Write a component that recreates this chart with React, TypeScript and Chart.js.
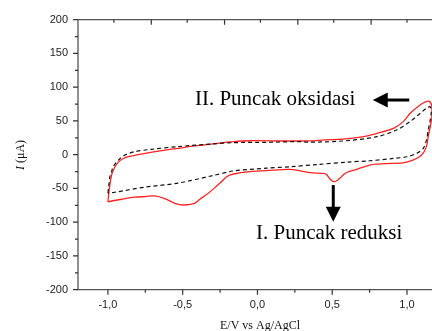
import React, { useEffect, useRef } from 'react';
import { Chart, registerables } from 'chart.js';

Chart.register(...registerables);

// Red CV curve (sample), potential (V) and current (µA)
const redE = [
  -1.0, -0.99, -0.975, -0.955, -0.93, -0.9, -0.864, -0.8, -0.75, -0.64, -0.53, -0.42, -0.3, -0.16, -0.05,
  0.17, 0.35, 0.45, 0.57, 0.7, 0.8, 0.91, 0.975, 1.02, 1.087, 1.12, 1.15, 1.166, 1.167, 1.156, 1.142,
  1.13, 1.098, 1.04, 0.975, 0.9, 0.8, 0.75, 0.664, 0.6, 0.574, 0.54, 0.514, 0.49, 0.46, 0.44, 0.35,
  0.22, 0.06, -0.05, -0.16, -0.206, -0.25, -0.296, -0.34, -0.385, -0.42, -0.496, -0.552, -0.62, -0.686,
  -0.75, -0.82, -0.908, -0.975, -1.0,
];
const redI = [
  -70, -50, -30, -19, -11, -6, -3, 0, 2, 6, 9.5, 13, 16, 19.3, 20.7,
  20.3, 20.5, 22, 23, 26.5, 31.7, 39, 49, 61, 73.6, 78, 79, 72, 58, 42, 27,
  12, -0.5, -8, -12, -13, -14, -15.3, -21.7, -26, -30, -37, -40, -37, -29, -27.6, -26.6,
  -21.7, -23.7, -25, -28.6, -32.6, -42, -51, -59, -66, -72, -74.5, -72, -65, -61,
  -62, -63, -66, -68.6, -70,
];

// Black dashed curve (blank)
const dashE = [
  -1.0, -0.995, -0.987, -0.975, -0.965, -0.93, -0.886, -0.82, -0.71, -0.53, -0.3, -0.16, 0.06, 0.28,
  0.35, 0.57, 0.8, 0.93, 1.02, 1.087, 1.13, 1.155, 1.162, 1.155, 1.142, 1.13, 1.109, 1.065, 1.0,
  0.91, 0.75, 0.6, 0.4, 0.22, 0.06, -0.16, -0.3, -0.53, -0.75, -0.965, -1.0,
];
const dashI = [
  -57, -48, -33, -25, -18, -8, -0.5, 4.5, 8, 12, 16, 17.8, 18.4, 19.3,
  18.5, 20.3, 26.7, 36.6, 49, 61, 68.7, 71, 62, 51, 36.6, 21.8, 9.5, 2, -3,
  -5.5, -9, -11, -14.5, -17.8, -20, -24, -31, -42, -48, -56, -57,
];

const xMajorTicks = [-1, -0.5, 0, 0.5, 1];
const xMinorTicks = [-0.75, -0.25, 0.25, 0.75];
const yMajorTicks = [-200, -150, -100, -50, 0, 50, 100, 150, 200];
const yMinorTicks = [-175, -125, -75, -25, 25, 75, 125, 175];
const topMajorTicks = [-0.71, -0.22, 0.27, 0.76];
const topMinorTicks = [-0.96, -0.47, 0.02, 0.51, 1.0];

const oxLabel = 'II. Puncak oksidasi';
const redLabel = 'I. Puncak reduksi';
const xTitle = 'E/V vs Ag/AgCl';

const SERIF = '"Liberation Serif", "Times New Roman", serif';
const SANS = '"Liberation Sans", Arial, sans-serif';

const decorPlugin = {
  id: 'decor',
  afterDraw(chart: any) {
    const { ctx, chartArea, scales } = chart;
    const xs = scales.x;
    const ys = scales.y;
    const { left, right, top, bottom } = chartArea;
    ctx.save();
    ctx.strokeStyle = '#555';
    ctx.lineWidth = 1.3;
    ctx.beginPath();
    ctx.moveTo(left, top);
    ctx.lineTo(right + 2, top);
    ctx.moveTo(left, top - 0.5);
    ctx.lineTo(left, bottom);
    ctx.lineTo(right + 2, bottom);
    ctx.stroke();

    ctx.lineWidth = 1.2;
    ctx.strokeStyle = '#333';
    ctx.beginPath();
    yMajorTicks.forEach((v) => { const p = ys.getPixelForValue(v); ctx.moveTo(left, p); ctx.lineTo(left - 5, p); });
    yMinorTicks.forEach((v) => { const p = ys.getPixelForValue(v); ctx.moveTo(left, p); ctx.lineTo(left - 3, p); });
    xMajorTicks.forEach((v) => { const p = xs.getPixelForValue(v); ctx.moveTo(p, bottom); ctx.lineTo(p, bottom + 5); });
    xMinorTicks.forEach((v) => { const p = xs.getPixelForValue(v); ctx.moveTo(p, bottom); ctx.lineTo(p, bottom + 3); });
    topMajorTicks.forEach((v) => { const p = xs.getPixelForValue(v); ctx.moveTo(p, top); ctx.lineTo(p, top + 5); });
    topMinorTicks.forEach((v) => { const p = xs.getPixelForValue(v); ctx.moveTo(p, top); ctx.lineTo(p, top + 3); });
    ctx.stroke();

    // annotations
    ctx.fillStyle = '#000';
    ctx.font = `21px ${SERIF}`;
    ctx.textAlign = 'left';
    ctx.textBaseline = 'alphabetic';
    ctx.fillText(oxLabel, xs.getPixelForValue(-0.418), ys.getPixelForValue(73.6));
    ctx.fillText(redLabel, xs.getPixelForValue(-0.01), ys.getPixelForValue(-125));

    // left arrow
    const ay = ys.getPixelForValue(81);
    const ax0 = xs.getPixelForValue(1.015);
    const ax1 = xs.getPixelForValue(0.771);
    ctx.strokeStyle = '#000';
    ctx.lineWidth = 3;
    ctx.beginPath();
    ctx.moveTo(ax0, ay);
    ctx.lineTo(ax1 + 10, ay);
    ctx.stroke();
    ctx.beginPath();
    ctx.moveTo(ax1, ay);
    ctx.lineTo(ax1 + 15, ay - 7.5);
    ctx.lineTo(ax1 + 15, ay + 7.5);
    ctx.closePath();
    ctx.fill();

    // down arrow
    const dx = xs.getPixelForValue(0.507);
    const dy0 = ys.getPixelForValue(-45);
    const dy1 = ys.getPixelForValue(-99.3);
    ctx.beginPath();
    ctx.moveTo(dx, dy0);
    ctx.lineTo(dx, dy1 - 10);
    ctx.stroke();
    ctx.beginPath();
    ctx.moveTo(dx, dy1);
    ctx.lineTo(dx - 7.5, dy1 - 15);
    ctx.lineTo(dx + 7.5, dy1 - 15);
    ctx.closePath();
    ctx.fill();

    // x title
    ctx.font = `12px ${SERIF}`;
    ctx.textAlign = 'center';
    ctx.fillStyle = '#111';
    ctx.fillText(xTitle, 260, 329);

    // y title (I italic)
    ctx.translate(24, 155);
    ctx.rotate(-Math.PI / 2);
    const italic = `italic 12px ${SERIF}`;
    const normal = `12px ${SERIF}`;
    ctx.font = italic;
    const w1 = ctx.measureText('I').width;
    ctx.font = normal;
    const w2 = ctx.measureText(' (μA)').width;
    const start = -(w1 + w2) / 2;
    ctx.textAlign = 'left';
    ctx.font = italic;
    ctx.fillText('I', start, 0);
    ctx.font = normal;
    ctx.fillText(' (μA)', start + w1, 0);
    ctx.restore();
  },
};

export default function App() {
  const ref = useRef<HTMLCanvasElement | null>(null);
  useEffect(() => {
    document.body.style.margin = '0';
    document.body.style.overflow = 'hidden';
    const canvas = ref.current;
    if (!canvas) return;
    const chart = new Chart(canvas, {
      type: 'scatter',
      data: {
        datasets: [
          {
            data: dashE.map((e, i) => ({ x: e, y: dashI[i] })),
            showLine: true,
            borderColor: '#111',
            borderWidth: 1.2,
            borderDash: [4, 3],
            pointRadius: 0,
            tension: 0.3,
            clip: false,
          } as any,
          {
            data: redE.map((e, i) => ({ x: e, y: redI[i] })),
            showLine: true,
            borderColor: '#ff2222',
            borderWidth: 1.3,
            pointRadius: 0,
            tension: 0.3,
            clip: false,
          } as any,
        ],
      },
      options: {
        responsive: false,
        animation: false,
        layout: { padding: { top: 19.7, left: 0, right: 0, bottom: 0 } },
        plugins: { legend: { display: false }, tooltip: { enabled: false } },
        scales: {
          x: {
            type: 'linear',
            min: -1.2,
            max: 1.1672,
            grid: { display: false, drawTicks: false },
            border: { display: false },
            afterBuildTicks: (s: any) => { s.ticks = xMajorTicks.map((v) => ({ value: v })); },
            afterFit: (s: any) => { s.height = 41.3; },
            ticks: {
              padding: 9,
              color: '#222',
              font: { family: SANS, size: 11 },
              maxRotation: 0,
              autoSkip: false,
              callback: (v: any) => Number(v).toFixed(1).replace('.', ','),
            },
          },
          y: {
            type: 'linear',
            min: -200,
            max: 200,
            grid: { display: false, drawTicks: false },
            border: { display: false },
            afterBuildTicks: (s: any) => { s.ticks = yMajorTicks.map((v) => ({ value: v })); },
            afterFit: (s: any) => { s.width = 78; },
            ticks: {
              padding: 10,
              color: '#222',
              font: { family: SANS, size: 11 },
              callback: (v: any) => String(v),
            },
          },
        },
      } as any,
      plugins: [decorPlugin],
    });
    return () => chart.destroy();
  }, []);
  return <canvas ref={ref} width={432} height={331} style={{ display: 'block' }} />;
}
